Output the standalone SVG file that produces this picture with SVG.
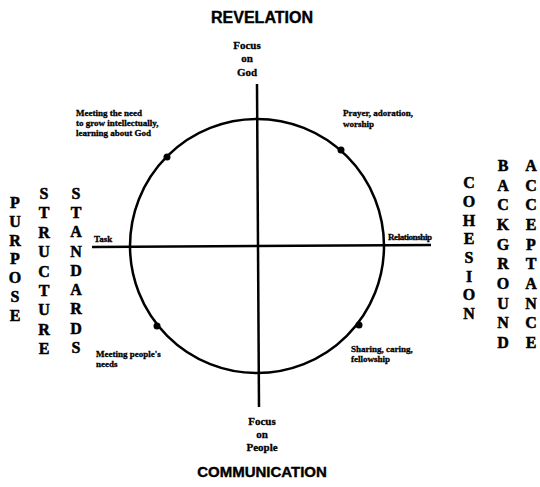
<svg xmlns="http://www.w3.org/2000/svg" width="540" height="487" viewBox="0 0 540 487">
<style>
.h{font-family:"Liberation Sans",Arial,sans-serif;font-weight:bold;font-size:15px;fill:#000;stroke:#000;stroke-width:0.4;text-anchor:middle}
.f{font-family:"Liberation Serif","Times New Roman",serif;font-weight:bold;font-size:11px;fill:#000;stroke:#000;stroke-width:0.3;text-anchor:middle}
.s{font-family:"Liberation Serif","Times New Roman",serif;font-weight:bold;font-size:9px;fill:#000;stroke:#000;stroke-width:0.3}
.v{font-family:"Liberation Serif","Times New Roman",serif;font-weight:bold;font-size:16px;fill:#000;stroke:#000;stroke-width:0.5;text-anchor:middle}
.ln{stroke:#000;stroke-width:2.5;fill:none}
</style>
<rect width="540" height="487" fill="#fff"/>
<g id="connectors">
<circle class="ln" cx="257" cy="246" r="127"/>
<line class="ln" x1="257" y1="84" x2="259" y2="407"/>
<line class="ln" x1="92" y1="247" x2="431" y2="245"/>
</g>
<g id="top">
<text class="h" x="262" y="23" style="font-size:16px">REVELATION</text>
<text class="f" x="247" y="49">Focus</text>
<text class="f" x="247" y="62">on</text>
<text class="f" x="247" y="76">God</text>
</g>
<g id="bottom">
<text class="f" x="262" y="425">Focus</text>
<text class="f" x="262" y="438">on</text>
<text class="f" x="262" y="451">People</text>
<text class="h" x="262" y="477">COMMUNICATION</text>
</g>
<g id="node-ul">
<circle cx="167" cy="157" r="3.5"/>
<text class="s" x="76" y="116">Meeting the need</text>
<text class="s" x="76" y="126">to grow intellectually,</text>
<text class="s" x="76" y="136">learning about God</text>
</g>
<g id="node-ur">
<circle cx="341" cy="150" r="3.5"/>
<text class="s" x="343" y="116">Prayer, adoration,</text>
<text class="s" x="343" y="127">worship</text>
</g>
<g id="node-ll">
<circle cx="157" cy="326" r="3.5"/>
<text class="s" x="96" y="357">Meeting people's</text>
<text class="s" x="96" y="367">needs</text>
</g>
<g id="node-lr">
<circle cx="359" cy="325" r="3.5"/>
<text class="s" x="351" y="352">Sharing, caring,</text>
<text class="s" x="351" y="362">fellowship</text>
</g>
<g id="task"><text class="s" x="94" y="242">Task</text></g>
<g id="relationship"><text class="s" x="388" y="240" textLength="44">Relationship</text></g>
<g id="left">
<text class="v" x="15"><tspan x="15" y="208">P</tspan><tspan x="15" y="227">U</tspan><tspan x="15" y="246">R</tspan><tspan x="15" y="264">P</tspan><tspan x="15" y="283">O</tspan><tspan x="15" y="302">S</tspan><tspan x="15" y="321">E</tspan></text>
<text class="v" x="44"><tspan x="44" y="199">S</tspan><tspan x="44" y="218">T</tspan><tspan x="44" y="238">R</tspan><tspan x="44" y="257">U</tspan><tspan x="44" y="277">C</tspan><tspan x="44" y="296">T</tspan><tspan x="44" y="315">U</tspan><tspan x="44" y="335">R</tspan><tspan x="44" y="354">E</tspan></text>
<text class="v" x="76"><tspan x="76" y="199">S</tspan><tspan x="76" y="218">T</tspan><tspan x="76" y="237">A</tspan><tspan x="76" y="257">N</tspan><tspan x="76" y="276">D</tspan><tspan x="76" y="295">A</tspan><tspan x="76" y="314">R</tspan><tspan x="76" y="334">D</tspan><tspan x="76" y="353">S</tspan></text>
</g>
<g id="right">
<text class="v" x="469"><tspan x="469" y="188">C</tspan><tspan x="469" y="207">O</tspan><tspan x="469" y="226">H</tspan><tspan x="469" y="244">E</tspan><tspan x="469" y="263">S</tspan><tspan x="469" y="282">I</tspan><tspan x="469" y="300">O</tspan><tspan x="469" y="319">N</tspan></text>
<text class="v" x="503"><tspan x="503" y="171">B</tspan><tspan x="503" y="191">A</tspan><tspan x="503" y="210">C</tspan><tspan x="503" y="230">K</tspan><tspan x="503" y="250">G</tspan><tspan x="503" y="269">R</tspan><tspan x="503" y="289">O</tspan><tspan x="503" y="309">U</tspan><tspan x="503" y="328">N</tspan><tspan x="503" y="348">D</tspan></text>
<text class="v" x="531"><tspan x="531" y="171">A</tspan><tspan x="531" y="191">C</tspan><tspan x="531" y="210">C</tspan><tspan x="531" y="230">E</tspan><tspan x="531" y="250">P</tspan><tspan x="531" y="269">T</tspan><tspan x="531" y="289">A</tspan><tspan x="531" y="309">N</tspan><tspan x="531" y="328">C</tspan><tspan x="531" y="348">E</tspan></text>
</g>
</svg>
